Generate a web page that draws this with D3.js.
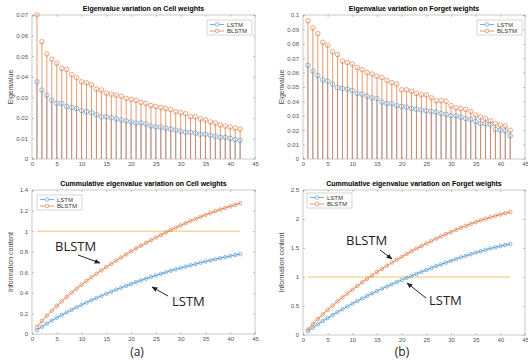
<!DOCTYPE html>
<html>
<head>
<meta charset="utf-8">
<script src="https://cdn.jsdelivr.net/npm/d3@7"></script>
<style>
  body { margin: 0; background: #fff; }
  svg { display: block; font-family: "Liberation Sans", Arial, sans-serif; }
</style>
</head>
<body>
<div id="chart"></div>
<script>
// component index (1..42)
const idx = d3.range(1, 43);

// eigenvalues, cell weights
const cellLSTM = [0.0375, 0.0335, 0.031, 0.0285, 0.027, 0.027, 0.0255, 0.025, 0.0245, 0.0235,
  0.023, 0.0225, 0.0215, 0.0205, 0.0205, 0.02, 0.0195, 0.019, 0.0185, 0.018,
  0.0175, 0.0175, 0.017, 0.016, 0.0155, 0.0155, 0.015, 0.0145, 0.014, 0.0135,
  0.013, 0.013, 0.0125, 0.012, 0.012, 0.0115, 0.011, 0.0105, 0.0105, 0.01, 0.0095, 0.009];
const cellBLSTM = [0.07, 0.057, 0.051, 0.0485, 0.0465, 0.044, 0.0435, 0.041, 0.0395, 0.0375,
  0.037, 0.036, 0.034, 0.0335, 0.032, 0.0315, 0.031, 0.0305, 0.0295, 0.029,
  0.0285, 0.0275, 0.027, 0.026, 0.0255, 0.025, 0.0245, 0.024, 0.023, 0.0225,
  0.022, 0.0205, 0.0205, 0.0195, 0.019, 0.018, 0.0175, 0.0165, 0.016, 0.0155, 0.015, 0.0145];

// eigenvalues, forget weights
const forgetLSTM = [0.065, 0.061, 0.058, 0.055, 0.054, 0.052, 0.0495, 0.049, 0.0485, 0.0475,
  0.0455, 0.045, 0.0435, 0.0425, 0.042, 0.0395, 0.0385, 0.0385, 0.037, 0.0365,
  0.036, 0.035, 0.0345, 0.034, 0.0335, 0.033, 0.0325, 0.0315, 0.031, 0.03,
  0.03, 0.029, 0.028, 0.0275, 0.026, 0.0245, 0.0245, 0.024, 0.0205, 0.02, 0.0195, 0.016];
const forgetBLSTM = [0.096, 0.091, 0.087, 0.081, 0.079, 0.0745, 0.0725, 0.068, 0.067, 0.066,
  0.0635, 0.062, 0.06, 0.059, 0.0575, 0.0565, 0.0545, 0.053, 0.052, 0.048,
  0.048, 0.047, 0.0455, 0.0445, 0.0445, 0.0425, 0.0405, 0.0405, 0.04, 0.037,
  0.0355, 0.035, 0.0345, 0.033, 0.0305, 0.029, 0.028, 0.0265, 0.0245, 0.0235, 0.023, 0.02];

// cumulative information content
const cumCellLSTM = [0.038, 0.071, 0.102, 0.131, 0.158, 0.185, 0.21, 0.235, 0.26, 0.283,
  0.306, 0.329, 0.35, 0.371, 0.391, 0.411, 0.431, 0.45, 0.468, 0.486,
  0.504, 0.521, 0.538, 0.554, 0.57, 0.585, 0.6, 0.615, 0.629, 0.642,
  0.655, 0.668, 0.681, 0.693, 0.705, 0.716, 0.727, 0.738, 0.748, 0.758, 0.768, 0.777];
const cumCellBLSTM = [0.07, 0.127, 0.178, 0.227, 0.273, 0.317, 0.361, 0.402, 0.441, 0.479,
  0.516, 0.552, 0.586, 0.619, 0.651, 0.683, 0.714, 0.744, 0.774, 0.803,
  0.831, 0.859, 0.886, 0.912, 0.937, 0.962, 0.987, 1.011, 1.034, 1.056,
  1.078, 1.099, 1.119, 1.139, 1.158, 1.176, 1.193, 1.21, 1.226, 1.241, 1.256, 1.271];
const cumForgetLSTM = [0.065, 0.126, 0.184, 0.239, 0.293, 0.345, 0.395, 0.444, 0.492, 0.54,
  0.585, 0.63, 0.674, 0.716, 0.758, 0.798, 0.836, 0.875, 0.912, 0.948,
  0.984, 1.019, 1.054, 1.088, 1.121, 1.154, 1.187, 1.218, 1.249, 1.279,
  1.309, 1.338, 1.366, 1.394, 1.42, 1.444, 1.469, 1.493, 1.513, 1.533, 1.553, 1.569];
const cumForgetBLSTM = [0.096, 0.187, 0.274, 0.355, 0.434, 0.509, 0.581, 0.649, 0.716, 0.782,
  0.846, 0.908, 0.968, 1.027, 1.084, 1.141, 1.195, 1.248, 1.3, 1.348,
  1.396, 1.443, 1.489, 1.533, 1.578, 1.62, 1.661, 1.701, 1.741, 1.778,
  1.814, 1.849, 1.883, 1.916, 1.947, 1.976, 2.004, 2.03, 2.055, 2.078, 2.101, 2.121];

const xTicks = [0, 5, 10, 15, 20, 25, 30, 35, 40, 45];
const yTicksCell = [0, 0.01, 0.02, 0.03, 0.04, 0.05, 0.06, 0.07];
const yTicksForget = [0, 0.01, 0.02, 0.03, 0.04, 0.05, 0.06, 0.07, 0.08, 0.09, 0.1];
const yTicksCumCell = [0, 0.2, 0.4, 0.6, 0.8, 1, 1.2, 1.4];
const yTicksCumForget = [0, 0.5, 1, 1.5, 2, 2.5];
const seriesNames = ["LSTM", "BLSTM"];

const W = 528, H = 361;
const BLUE = "#5d9fd3", ORANGE = "#e2814f", YELLOW = "#efc26a";

const svg = d3.select("#chart").append("svg")
  .attr("width", W).attr("height", H);

svg.append("defs").append("marker")
  .attr("id", "arrow")
  .attr("viewBox", "0 0 10 10")
  .attr("refX", 9).attr("refY", 5)
  .attr("markerWidth", 6).attr("markerHeight", 6)
  .attr("orient", "auto")
  .append("path").attr("d", "M0,1 L10,5 L0,9 z").attr("fill", "#222");

const fmt = d3.format("~g");

function panel(o) {
  const x = d3.scaleLinear().domain([0, 45]).range([o.left, o.right]);
  const y = d3.scaleLinear().domain([0, o.yMax]).range([o.bottom, o.top]);
  const g = svg.append("g");

  // frame
  g.append("rect")
    .attr("x", o.left).attr("y", o.top)
    .attr("width", o.right - o.left).attr("height", o.bottom - o.top)
    .attr("fill", "#fff").attr("stroke", "#bdbdbd").attr("stroke-width", 0.8);

  // axes, ticks pointing inward like matlab
  g.append("g").attr("transform", `translate(0,${o.bottom})`)
    .call(d3.axisBottom(x).tickValues(xTicks).tickSize(-2).tickPadding(3).tickFormat(fmt));
  g.append("g").attr("transform", `translate(${o.left},0)`)
    .call(d3.axisLeft(y).tickValues(o.yTicks).tickSize(-2).tickPadding(4).tickFormat(fmt));
  g.append("g").attr("transform", `translate(0,${o.top})`)
    .call(d3.axisTop(x).tickValues(xTicks).tickSize(-2).tickFormat(""));
  g.append("g").attr("transform", `translate(${o.right},0)`)
    .call(d3.axisRight(y).tickValues(o.yTicks).tickSize(-2).tickFormat(""));
  g.selectAll(".domain").remove();
  g.selectAll(".tick line").attr("stroke", "#999").attr("stroke-width", 0.6);
  g.selectAll(".tick text").attr("fill", "#555").style("font-size", "6px");

  // title
  g.append("text")
    .attr("x", (o.left + o.right) / 2).attr("y", o.top - 4)
    .attr("text-anchor", "middle")
    .style("font-size", "7px").style("font-weight", "bold")
    .text(o.title);

  // y label
  g.append("text")
    .attr("transform", `translate(${o.left - 19},${(o.top + o.bottom) / 2}) rotate(-90)`)
    .attr("text-anchor", "middle")
    .style("font-size", "7px").attr("fill", "#444")
    .text(o.ylabel);

  return { g, x, y };
}

function stems(p, vals, color) {
  p.g.selectAll(null).data(vals).enter().append("line")
    .attr("x1", (d, i) => p.x(idx[i])).attr("x2", (d, i) => p.x(idx[i]))
    .attr("y1", p.y(0)).attr("y2", d => p.y(d))
    .attr("stroke", color).attr("stroke-width", 0.8);
}

function markers(p, vals, color, r) {
  p.g.selectAll(null).data(vals).enter().append("circle")
    .attr("cx", (d, i) => p.x(idx[i])).attr("cy", d => p.y(d))
    .attr("r", r).attr("fill", "none")
    .attr("stroke", color).attr("stroke-width", 0.7);
}

function curve(p, vals, color) {
  p.g.append("path")
    .datum(vals)
    .attr("d", d3.line().x((d, i) => p.x(idx[i])).y(d => p.y(d)))
    .attr("fill", "none").attr("stroke", color).attr("stroke-width", 1);
  markers(p, vals, color, 1.8);
}

function legend(p, lx, ly) {
  const g = p.g.append("g").attr("transform", `translate(${lx},${ly})`);
  g.append("rect").attr("width", 45).attr("height", 15)
    .attr("fill", "#fff").attr("stroke", "#bbb").attr("stroke-width", 0.6);
  [BLUE, ORANGE].forEach((c, i) => {
    const yy = 4.5 + i * 6.5;
    g.append("line").attr("x1", 3).attr("x2", 17).attr("y1", yy).attr("y2", yy)
      .attr("stroke", c).attr("stroke-width", 0.8);
    g.append("circle").attr("cx", 10).attr("cy", yy).attr("r", 1.8)
      .attr("fill", "#fff").attr("stroke", c).attr("stroke-width", 0.7);
    g.append("text").attr("x", 20).attr("y", yy + 2)
      .style("font-size", "6px").attr("fill", "#333").text(seriesNames[i]);
  });
}

function annotate(tx, ty, x1, y1, x2, y2, label) {
  svg.append("text").attr("x", tx).attr("y", ty)
    .style("font-family", "'Open Sans', sans-serif")
    .style("font-size", "13px").attr("fill", "#222").text(label);
  svg.append("line")
    .attr("x1", x1).attr("y1", y1).attr("x2", x2).attr("y2", y2)
    .attr("stroke", "#222").attr("stroke-width", 1)
    .attr("marker-end", "url(#arrow)");
}

// top left
const p1 = panel({ left: 32, right: 255, top: 15, bottom: 159, yMax: 0.07, yTicks: yTicksCell,
  title: "Eigenvalue variation on Cell weights", ylabel: "Eigenvalue" });
stems(p1, cellLSTM, BLUE);
stems(p1, cellBLSTM, ORANGE);
markers(p1, cellLSTM, BLUE, 2.3);
markers(p1, cellBLSTM, ORANGE, 2.3);
legend(p1, 207, 20);

// top right
const p2 = panel({ left: 303, right: 525, top: 15, bottom: 159, yMax: 0.1, yTicks: yTicksForget,
  title: "Eigenvalue variation on Forget weights", ylabel: "Eigenvalue" });
stems(p2, forgetLSTM, BLUE);
stems(p2, forgetBLSTM, ORANGE);
markers(p2, forgetLSTM, BLUE, 2.3);
markers(p2, forgetBLSTM, ORANGE, 2.3);
legend(p2, 477, 20);

// bottom left
const p3 = panel({ left: 32, right: 255, top: 190, bottom: 334, yMax: 1.4, yTicks: yTicksCumCell,
  title: "Cummulative eigenvalue variation on Cell weights", ylabel: "Information content" });
p3.g.append("line")
  .attr("x1", p3.x(idx[0])).attr("x2", p3.x(idx[idx.length - 1]))
  .attr("y1", p3.y(1)).attr("y2", p3.y(1))
  .attr("stroke", YELLOW).attr("stroke-width", 1);
curve(p3, cumCellLSTM, BLUE);
curve(p3, cumCellBLSTM, ORANGE);
legend(p3, 37, 195);

// bottom right
const p4 = panel({ left: 303, right: 525, top: 190, bottom: 335, yMax: 2.5, yTicks: yTicksCumForget,
  title: "Cummulative eigenvalue variation on Forget weights", ylabel: "Information content" });
p4.g.append("line")
  .attr("x1", p4.x(idx[0])).attr("x2", p4.x(idx[idx.length - 1]))
  .attr("y1", p4.y(1)).attr("y2", p4.y(1))
  .attr("stroke", YELLOW).attr("stroke-width", 1);
curve(p4, cumForgetLSTM, BLUE);
curve(p4, cumForgetBLSTM, ORANGE);
legend(p4, 307, 193);

// hand drawn callouts
annotate(55, 251, 78, 255, 100, 263, "BLSTM");
annotate(172, 306, 168, 296, 152, 287, "LSTM");
annotate(346, 245, 380, 250, 392, 259, "BLSTM");
annotate(429, 305, 426, 298, 407, 283, "LSTM");

// sub-figure labels
svg.append("text").attr("x", 137).attr("y", 356).attr("text-anchor", "middle")
  .style("font-family", "'Open Sans', sans-serif").style("font-size", "12px").attr("fill", "#222").text("(a)");
svg.append("text").attr("x", 402).attr("y", 356).attr("text-anchor", "middle")
  .style("font-family", "'Open Sans', sans-serif").style("font-size", "12px").attr("fill", "#222").text("(b)");
</script>
</body>
</html>
